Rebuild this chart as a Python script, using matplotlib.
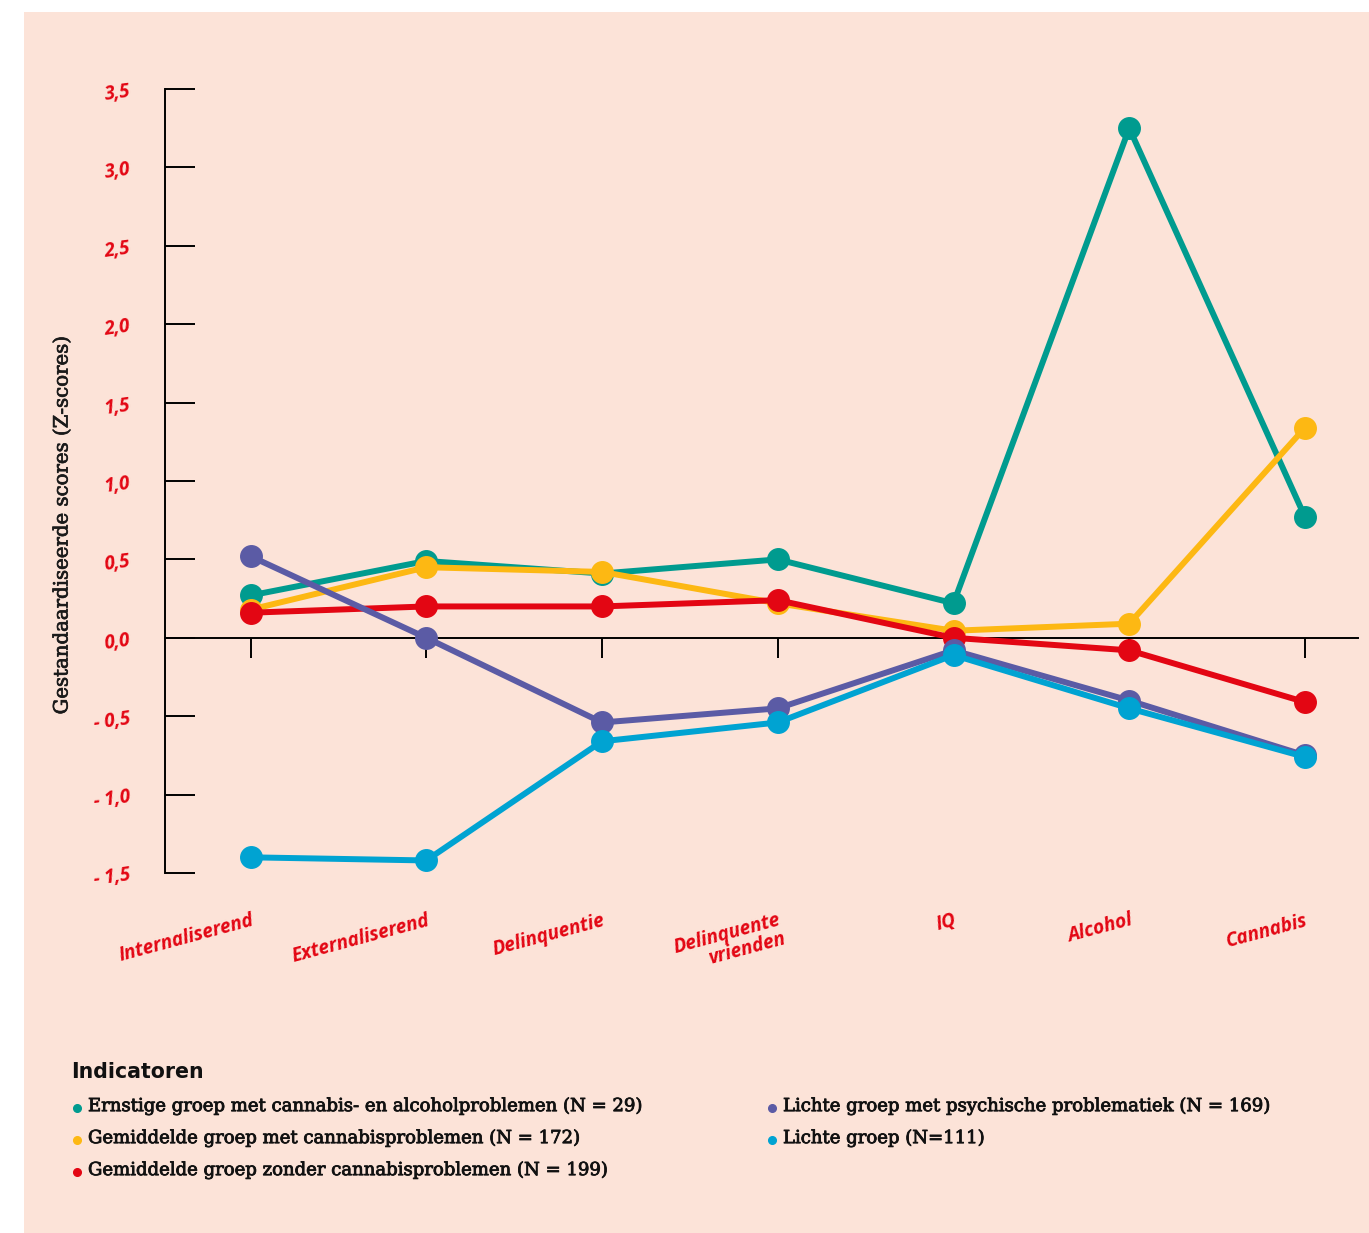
import matplotlib
matplotlib.use("Agg")
from matplotlib import pyplot as plt
from matplotlib.lines import Line2D
from matplotlib.patches import Rectangle
import matplotlib.patheffects as pe

indicatoren = ["Internaliserend", "Externaliserend", "Delinquentie",
               "Delinquente\nvrienden", "IQ", "Alcohol", "Cannabis"]

ernstig = [0.27, 0.49, 0.41, 0.50, 0.22, 3.25, 0.77]
gem_cannabis = [0.18, 0.45, 0.42, 0.22, 0.045, 0.09, 1.34]
gem_zonder = [0.16, 0.20, 0.20, 0.24, 0.0, -0.08, -0.41]
licht_psych = [0.52, 0.0, -0.54, -0.45, -0.08, -0.40, -0.75]
licht = [-1.40, -1.42, -0.66, -0.54, -0.11, -0.45, -0.76]

groepen = [
    ("Ernstige groep met cannabis- en alcoholproblemen (N = 29)", ernstig, "#009B8F"),
    ("Gemiddelde groep met cannabisproblemen (N = 172)", gem_cannabis, "#FDB813"),
    ("Gemiddelde groep zonder cannabisproblemen (N = 199)", gem_zonder, "#E30613"),
    ("Lichte groep met psychische problematiek (N = 169)", licht_psych, "#5B5BA5"),
    ("Lichte groep (N=111)", licht, "#00A3D2"),
]

y_ticks = [-1.5, -1.0, -0.5, 0.0, 0.5, 1.0, 1.5, 2.0, 2.5, 3.0, 3.5]
y_labels = ["- 1,5", "- 1,0", "- 0,5", "0,0", "0,5", "1,0", "1,5",
            "2,0", "2,5", "3,0", "3,5"]

RED = "#E30613"
BG = "#FCE3D8"
W, H = 1369, 1233
LABEL_FONT = dict(fontfamily="Open Sans", fontweight="bold",
                  fontstyle="italic", color=RED)

fig = plt.figure(figsize=(W / 100, H / 100), dpi=100, facecolor="white")
fig.patches.append(Rectangle((24 / W, 0), 1 - 24 / W, 1 - 12 / H,
                             transform=fig.transFigure, facecolor=BG,
                             edgecolor="none", zorder=-5))

ax = fig.add_axes([165 / W, 360 / H, (1358 - 165) / W, (873 - 89) / H])
ax.set_facecolor("none")
ax.set_zorder(2)

x = list(range(len(indicatoren)))
# red first so the other groups sit on top of it
order = [2, 1, 0, 3, 4]
for i in order:
    naam, vals, kleur = groepen[i]
    ax.plot(x, vals, color=kleur, lw=4.3, marker="o", ms=15.5,
            solid_capstyle="round", clip_on=False, zorder=3 + i)

step = (1305 - 250.5) / 6
ax.set_xlim(-(250.5 - 165) / step, 6 + (1358 - 1305) / step)
ax.set_ylim(-1.5, 3.5)

for s in ["top", "right"]:
    ax.spines[s].set_visible(False)
ax.spines["left"].set_linewidth(1.4)
ax.spines["bottom"].set_linewidth(1.4)
ax.spines["bottom"].set_position(("data", 0))

ax.set_yticks(y_ticks)
ax.set_yticklabels(y_labels, rotation=8, fontsize=13.5, **LABEL_FONT)
ax.tick_params(axis="y", direction="in", length=21.6, width=1.4, pad=24)

ax.set_xticks(x)
ax.set_xticklabels([])
ax.tick_params(axis="x", direction="out", length=14.4, width=1.4)

for xi, lab in zip(x, indicatoren):
    ax.text(xi, -0.048, lab, transform=ax.get_xaxis_transform(),
            ha="right", va="top", rotation=15, rotation_mode="anchor",
            multialignment="right", fontsize=13.8, linespacing=0.95,
            **LABEL_FONT)

fig.text(62 / W, 1 - 525 / H, "Gestandaardiseerde scores (Z-scores)",
         rotation=90, ha="center", va="center", fontfamily="DejaVu Serif",
         fontsize=14.2, color="#1a1a1a",
         path_effects=[pe.withStroke(linewidth=0.5, foreground="#1a1a1a")])

# legend
fig.text(71 / W, 1 - 1072 / H, "Indicatoren", ha="left", va="center",
         fontfamily="DejaVu Sans", fontweight="bold", fontsize=14.8,
         color="#111111")
for i, (naam, vals, kleur) in enumerate(groepen):
    kol, rij = divmod(i, 3)
    bx = [77, 772][kol]
    by = 1 - (1106 + 32 * rij) / H
    fig.add_artist(Line2D([bx / W], [by - 2 / H], marker="o", ms=5.5,
                          color=kleur, transform=fig.transFigure))
    fig.text((bx + 11) / W, by, naam, ha="left", va="center",
             fontfamily="DejaVu Serif", fontsize=13.0, color="#111111",
             path_effects=[pe.withStroke(linewidth=0.6, foreground="#111111")])

fig.savefig("out.png", dpi=100, facecolor="white")
